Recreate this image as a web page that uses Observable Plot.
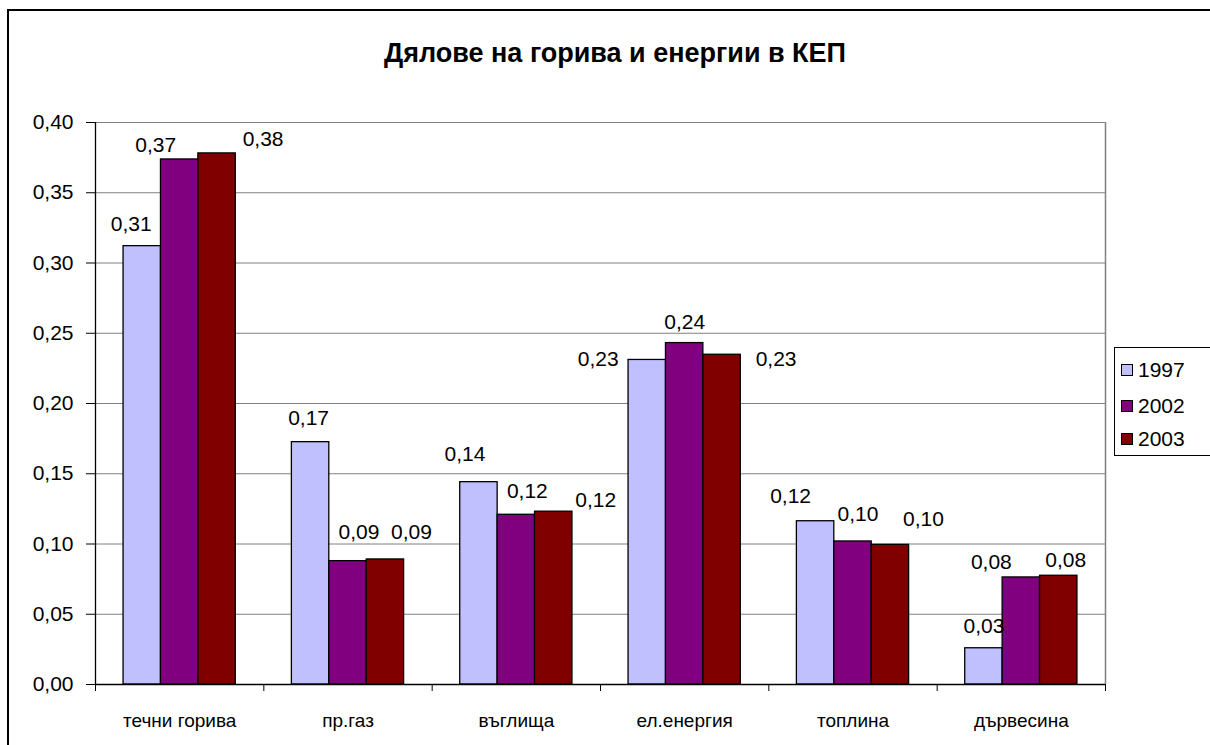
<!DOCTYPE html>
<html>
<head>
<meta charset="utf-8">
<script src="https://cdn.jsdelivr.net/npm/d3@7"></script>
<script src="https://cdn.jsdelivr.net/npm/@observablehq/plot@0.6"></script>
<style>
  html, body { margin: 0; padding: 0; background: #fff; overflow: hidden; }
  body { width: 1210px; height: 745px; position: relative; font-family: "Liberation Sans", Arial, sans-serif; }
  #frame { position: absolute; left: 7px; top: 9px; width: 1300px; height: 900px; border: 2px solid #000; box-sizing: border-box; }
  #chart { position: absolute; left: 0; top: 0; }
  #title { position: absolute; left: 0; top: 38px; width: 1230px; text-align: center; font-weight: bold; font-size: 27px; line-height: 30px; color: #000; }
  #legend { position: absolute; left: 1114px; top: 347px; width: 100px; height: 109px; border: 1px solid #000; box-sizing: border-box; background: #fff; }
  .item { position: absolute; left: 6px; font-size: 21px; line-height: 24px; color: #000; display: flex; align-items: center; }
  .sw { width: 12px; height: 12px; border: 1px solid #000; margin-right: 5px; box-sizing: border-box; }
</style>
</head>
<body>
<div id="frame"></div>
<div id="chart"></div>
<div id="title"></div>
<div id="legend"></div>
<script>
// ---- data ----
const title = "Дялове на горива и енергии в КЕП";
const categories = ["течни горива", "пр.газ", "въглища", "ел.енергия", "топлина", "дървесина"];
const years = ["1997", "2002", "2003"];
const values1997 = [0.312, 0.1725, 0.144, 0.231, 0.1162, 0.0258];
const values2002 = [0.3737, 0.0878, 0.1208, 0.243, 0.1018, 0.0762];
const values2003 = [0.378, 0.089, 0.123, 0.2347, 0.0994, 0.0774];
const yTicks = [0, 0.05, 0.10, 0.15, 0.20, 0.25, 0.30, 0.35, 0.40];

// ---- style / layout ----
const colors = ["#C0C0FF", "#800080", "#800000"];
const W = 1210, H = 745, ML = 95, MR = 105, MT = 122, MB = 61;
const step = (W - ML - MR) / categories.length;
const bw = step * 2 / 3;          // cluster width
const barW = bw / years.length;   // single bar width
const innerH = H - MT - MB;
// data-label nudges (px) relative to the bar's top centre, per year
const labelDx = [[-11, -2, -14, -49, -25, 0], [-24, 11, 11, 0, 5, -30], [46, 26, 42, 54, 33, 7]];
const labelLift = [[15, 17, 21, -6, 18, 15], [7, 22, 17, 14, 20, 8], [7, 20, 5, -11, 19, 9]];

const series = [values1997, values2002, values2003];
const fmt = v => v.toFixed(2).replace(".", ",");

const marks = [];
// gridlines
marks.push(Plot.ruleY(yTicks.filter(t => t > 0), {stroke: "#808080", strokeWidth: 1}));
// right plot edge
marks.push(Plot.ruleX([categories[categories.length - 1]], {dx: step / 2, stroke: "#808080", strokeWidth: 1.5}));
// bars
series.forEach((vals, k) => {
  const rows = categories.map((c, i) => ({category: c, value: vals[i], year: years[k]}));
  marks.push(Plot.barY(rows, {
    x: "category", y: "value", fill: colors[k], stroke: "#000", strokeWidth: 1.3,
    insetLeft: k * barW, insetRight: (years.length - 1 - k) * barW
  }));
});
// axis lines
marks.push(Plot.ruleY([0], {stroke: "#000", strokeWidth: 1.3}));
marks.push(Plot.ruleX([categories[0]], {dx: -step / 2, stroke: "#000", strokeWidth: 1.3}));
// category boundary ticks
marks.push(Plot.ruleX(categories, {dx: -step / 2, stroke: "#000", strokeWidth: 1, insetTop: innerH, insetBottom: -7}));
marks.push(Plot.ruleX([categories[categories.length - 1]], {dx: step / 2, stroke: "#000", strokeWidth: 1, insetTop: innerH, insetBottom: -7}));
// category labels
marks.push(Plot.text(categories, {
  x: d => d, frameAnchor: "bottom", dy: 42, lineAnchor: "bottom", textAnchor: "middle", fontSize: 19, fill: "#000"
}));
// data labels
series.forEach((vals, k) => {
  categories.forEach((c, i) => {
    marks.push(Plot.text([{category: c, value: vals[i]}], {
      x: "category", y: "value", text: d => fmt(d.value),
      dx: (k - 1) * barW + labelDx[k][i], dy: -labelLift[k][i],
      lineAnchor: "bottom", textAnchor: "middle", fontSize: 21, fill: "#000"
    }));
  });
});

const chart = Plot.plot({
  width: W, height: H,
  marginLeft: ML, marginRight: MR, marginTop: MT, marginBottom: MB,
  style: {fontFamily: '"Liberation Sans", Arial, sans-serif', fontSize: "21px", color: "#000", background: "transparent", overflow: "visible"},
  x: {domain: categories, paddingInner: 1 / 3, paddingOuter: 1 / 6, round: false, axis: null},
  y: {domain: [0, 0.4], ticks: yTicks, tickFormat: fmt, tickSize: 9, tickPadding: 13, label: null},
  marks
});
document.getElementById("chart").appendChild(chart);

document.getElementById("title").textContent = title;
const legend = document.getElementById("legend");
const rowTops = [10, 46, 79];
years.forEach((y, k) => {
  const it = document.createElement("div");
  it.className = "item";
  it.style.top = rowTops[k] + "px";
  const sw = document.createElement("span");
  sw.className = "sw";
  sw.style.background = colors[k];
  it.appendChild(sw);
  it.appendChild(document.createTextNode(y));
  legend.appendChild(it);
});
</script>
</body>
</html>
